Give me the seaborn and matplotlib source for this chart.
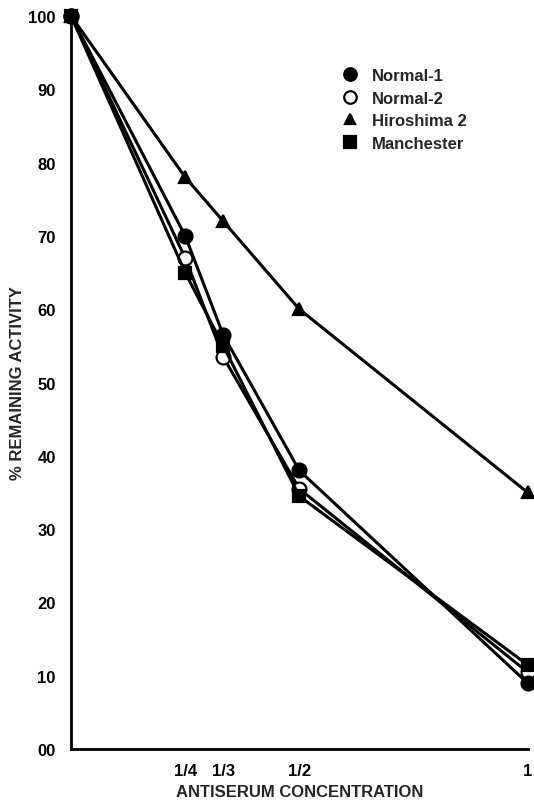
import matplotlib
matplotlib.use("Agg")
import matplotlib.pyplot as plt
from matplotlib.lines import Line2D
import seaborn as sns
import pandas as pd

concentration = [0.0, 1/4, 1/3, 1/2, 1.0]
normal_1 = [100, 70, 56.5, 38, 9]
normal_2 = [100, 67, 53.5, 35.5, 10.5]
hiroshima_2 = [100, 78, 72, 60, 35]
manchester = [100, 65, 55, 34.5, 11.5]

series_names = ["Normal-1", "Normal-2", "Hiroshima 2", "Manchester"]
series_values = [normal_1, normal_2, hiroshima_2, manchester]
x_tick_values = [1/4, 1/3, 1/2, 1.0]
x_tick_labels = ["1/4", "1/3", "1/2", "1"]
y_tick_values = [0, 10, 20, 30, 40, 50, 60, 70, 80, 90, 100]
y_tick_labels = ["00", "10", "20", "30", "40", "50", "60", "70", "80", "90", "100"]

sns.set_style("white")
plt.rcParams["font.family"] = ["Liberation Sans", "DejaVu Sans"]
plt.rcParams["font.weight"] = "bold"

fig = plt.figure(figsize=(5.34, 8.04), dpi=100)
ax = fig.add_axes([0.133, 0.067, 0.855, 0.912])

styles = {
    "Normal-1": dict(marker="o", mfc="black", ms=10),
    "Normal-2": dict(marker="o", mfc="white", ms=10),
    "Hiroshima 2": dict(marker="^", mfc="black", ms=8),
    "Manchester": dict(marker="s", mfc="black", ms=9),
}

rows = []
for name, vals in zip(series_names, series_values):
    for xv, yv in zip(concentration, vals):
        rows.append({"conc": xv, "activity": yv, "series": name})
df = pd.DataFrame(rows)

order = ["Hiroshima 2", "Normal-2", "Normal-1", "Manchester"]
for name in order:
    st = styles[name]
    sub = df[df["series"] == name]
    sns.lineplot(data=sub, x="conc", y="activity", ax=ax, color="black",
                 linewidth=2.2, marker=st["marker"], markersize=st["ms"],
                 markerfacecolor=st["mfc"], markeredgecolor="black",
                 markeredgewidth=1.6, clip_on=False, legend=False,
                 estimator=None, sort=False)

ax.set_xlim(0, 1.0)
ax.set_ylim(0, 100)
ax.set_xticks(x_tick_values)
ax.set_xticklabels(x_tick_labels)
ax.set_yticks(y_tick_values)
ax.set_yticklabels(y_tick_labels)
ax.tick_params(axis="both", direction="in", length=5, width=1.5, labelsize=12,
               colors="black")
ax.tick_params(axis="y", pad=11)
ax.tick_params(axis="x", pad=10)
for side in ["top", "right"]:
    ax.spines[side].set_visible(False)
for side in ["left", "bottom"]:
    ax.spines[side].set_color("black")
    ax.spines[side].set_linewidth(2.0)

ax.set_xlabel("ANTISERUM CONCENTRATION", fontsize=12, fontweight="bold", labelpad=4)
ax.set_ylabel("% REMAINING ACTIVITY", fontsize=12, fontweight="bold", labelpad=2)

handles = []
for name in series_names:
    st = styles[name]
    handles.append(Line2D([], [], linestyle="none", marker=st["marker"],
                          markersize=st["ms"] - 1, markerfacecolor=st["mfc"],
                          markeredgecolor="black", markeredgewidth=1.6, label=name))
leg = ax.legend(handles=handles, loc="upper left", bbox_to_anchor=(0.56, 0.938),
                frameon=False, prop={"size": 12, "weight": "bold"},
                handletextpad=0.3, labelspacing=0.45, borderaxespad=0)

fig.savefig("out.png", dpi=100)
